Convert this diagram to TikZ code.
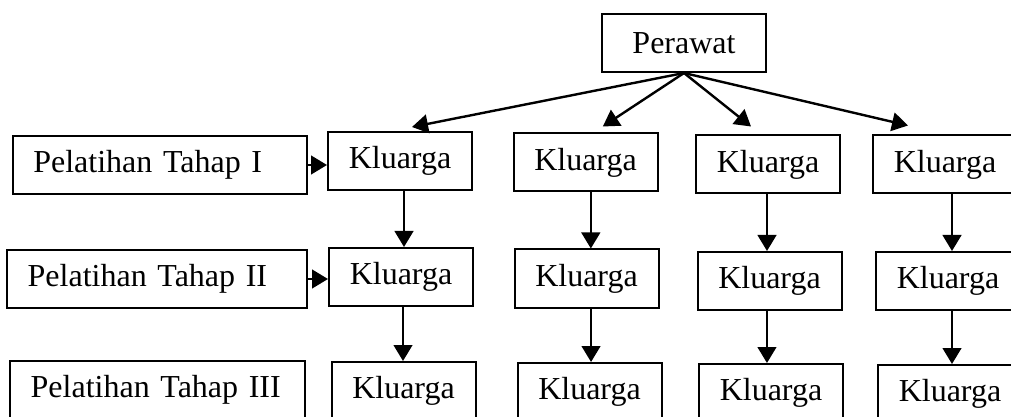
\documentclass[tikz,border=0pt]{standalone}
\usepackage{fontspec}
\setmainfont{Liberation Serif}
\usetikzlibrary{arrows.meta}

\begin{document}
\begin{tikzpicture}[x=0.75pt, y=-0.75pt,
	kotak/.style={draw, line width=1.5pt, minimum width=108pt, minimum height=43.5pt, inner sep=0pt, font=\fontsize{24}{28}\selectfont},
	tahap/.style={kotak, align=left, inner xsep=15.5pt, minimum width=0pt},
	panah/.style={line width=1.8pt, -{Triangle[length=12pt, width=14pt]}}]
			%%%%% START %%%%%
			\clip (0, 0) rectangle (1011, 417);
			
			\node[kotak, minimum width=123pt] (perawat) at (684, 43) {Perawat};
			
			\node[tahap, text width=190pt] (tahap1) at (160, 165) {Pelatihan Tahap I};
			\node[tahap, text width=194pt] (tahap2) at (157, 279) {Pelatihan Tahap II};
			\node[tahap, text width=190.25pt] (tahap3) at (157.5, 390) {Pelatihan Tahap III};
			
			\node[kotak] (k11) at (400, 161) {Kluarga};
			\node[kotak] (k12) at (585.5, 162.5) {Kluarga};
			\node[kotak] (k13) at (768, 164.5) {Kluarga};
			\node[kotak] (k14) at (945, 164.5) {Kluarga};
			
			\node[kotak] (k21) at (401, 277) {Kluarga};
			\node[kotak] (k22) at (586.5, 278.5) {Kluarga};
			\node[kotak] (k23) at (769.5, 281) {Kluarga};
			\node[kotak] (k24) at (948, 281) {Kluarga};
			
			\node[kotak] (k31) at (403.5, 391) {Kluarga};
			\node[kotak] (k32) at (589.5, 392) {Kluarga};
			\node[kotak] (k33) at (771, 393) {Kluarga};
			\node[kotak] (k34) at (950, 394) {Kluarga};
			
			\draw[panah] (perawat.south) -- ([xshift=9pt, yshift=3pt]k11.north);
			\draw[panah] (perawat.south) -- ([xshift=13pt, yshift=4.5pt]k12.north);
			\draw[panah] (perawat.south) -- ([xshift=-12.75pt, yshift=6pt]k13.north);
			\draw[panah] (perawat.south) -- ([xshift=-27.75pt, yshift=6.75pt]k14.north);
			
			\draw[panah] (tahap1.east) -- (tahap1.east -| k11.west);
			\draw[panah] (tahap2.east) -- (tahap2.east -| k21.west);
			
			\draw[panah] ([xshift=3pt]k11.south) -- ([xshift=3pt]k11.south |- k21.north);
			\draw[panah] ([xshift=4pt]k12.south) -- ([xshift=4pt]k12.south |- k22.north);
			\draw[panah] ([xshift=-0.75pt]k13.south) -- ([xshift=-0.75pt]k13.south |- k23.north);
			\draw[panah] ([xshift=5.25pt]k14.south) -- ([xshift=5.25pt]k14.south |- k24.north);
			
			\draw[panah] ([xshift=1.5pt]k21.south) -- ([xshift=1.5pt]k21.south |- k31.north);
			\draw[panah] ([xshift=3.4pt]k22.south) -- ([xshift=3.4pt]k22.south |- k32.north);
			\draw[panah] ([xshift=-1.9pt]k23.south) -- ([xshift=-1.9pt]k23.south |- k33.north);
			\draw[panah] ([xshift=3pt]k24.south) -- ([xshift=3pt]k24.south |- k34.north);
			
			%%%%% END %%%%%
\end{tikzpicture}
\end{document}
